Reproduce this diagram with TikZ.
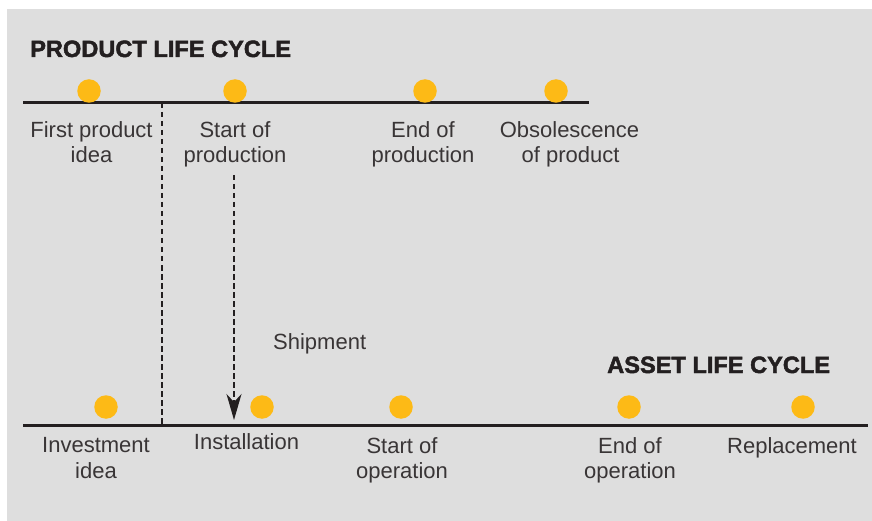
\documentclass[tikz,border=0pt]{standalone}
\usepackage{fontspec}
\setmainfont{Liberation Sans}
\newfontfamily\titlefont[FakeBold=2]{Liberation Sans Bold}
\usetikzlibrary{arrows.meta}
\definecolor{bggray}{HTML}{DEDEDE}
\definecolor{dotyellow}{HTML}{FDBA16}
\definecolor{ink}{HTML}{231F20}
\tikzset{
  dotnode/.style={circle,fill=dotyellow,draw=none,minimum size=23.5pt,inner sep=0pt},
  timeline/.style={draw=ink,line width=3pt},
  lbl/.style={anchor=base,inner sep=0pt,text=ink!90,font=\fontsize{22}{26}\selectfont},
  ttl/.style={anchor=base west,inner sep=0pt,text=ink,font=\fontsize{23.6}{28}\selectfont\titlefont},
  dashline/.style={draw=ink,line width=1.7pt,dash pattern=on 5.5pt off 3.5pt}
}
\begin{document}
\begin{tikzpicture}[x=1pt,y=-1pt]
\useasboundingbox (0,0) rectangle (872,521);
\fill[bggray] (7,9) rectangle (872,521);

% titles
\node[ttl] (ptitle) at (30,57) {PRODUCT LIFE CYCLE};
\node[ttl] (atitle) at (607,373) {ASSET LIFE CYCLE};

% timelines
\coordinate (pl) at (23,103);
\coordinate (pr) at (589,103);
\coordinate (al) at (23,425);
\coordinate (ar) at (868,425);
\draw[timeline] (pl) -- (pr);
\draw[timeline] (al) -- (ar);

% dots product
\node[dotnode] (p1) at (89,91) {};
\node[dotnode] (p2) at (235,91) {};
\node[dotnode] (p3) at (425,91) {};
\node[dotnode] (p4) at (556,91) {};
% dots asset
\node[dotnode] (a1) at (106,407) {};
\node[dotnode] (a2) at (262,407) {};
\node[dotnode] (a3) at (401,407) {};
\node[dotnode] (a4) at (629,407) {};
\node[dotnode] (a5) at (803,407) {};

% product labels
\node[lbl] (fp1) at (91.5,138) {First product};
\node[lbl] (fp2) at (91.5,163) {idea};
\node[lbl] (sp1) at (235,138) {Start of};
\node[lbl] (sp2) at (235,163) {production};
\node[lbl] (ep1) at (423,138) {End of};
\node[lbl] (ep2) at (423,163) {production};
\node[lbl] (op1) at (569.5,138) {Obsolescence};
\node[lbl] (op2) at (570.5,163) {of product};

% asset labels
\node[lbl] (ii1) at (96,452) {Investment};
\node[lbl] (ii2) at (96,478) {idea};
\node[lbl] (in1) at (246.5,449) {Installation};
\node[lbl] (so1) at (402,453) {Start of};
\node[lbl] (so2) at (402,478) {operation};
\node[lbl] (eo1) at (630,453) {End of};
\node[lbl] (eo2) at (630,478) {operation};
\node[lbl] (re1) at (792,453) {Replacement};

% shipment
\node[lbl,anchor=base west] (ship) at (273,349) {Shipment};

% dashed lines
\coordinate (d1) at (162,103);
\coordinate (d2) at (162,425);
\draw[dashline] (d1) -- (d2);
\coordinate (s1) at (234,175);
\coordinate (s2) at (234,420);
\draw[dashline,-{Stealth[length=26pt,width=15pt,inset=8pt]}] (s1) -- (s2);
\end{tikzpicture}
\end{document}
